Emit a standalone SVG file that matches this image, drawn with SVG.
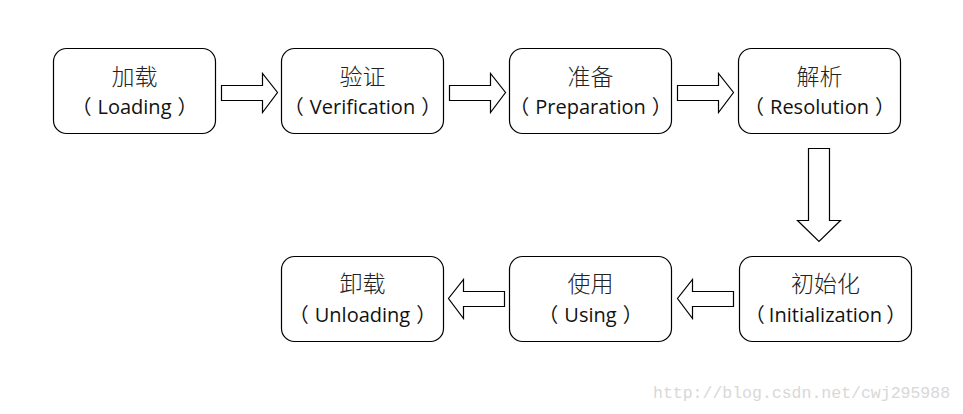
<svg xmlns="http://www.w3.org/2000/svg" width="963" height="414" viewBox="0 0 963 414">
<style>
.box{fill:#fff;stroke:#000;stroke-width:1.2}
.arr{fill:#fff;stroke:#000;stroke-width:1.2;stroke-linejoin:miter}
.zh{font-family:"Noto Sans CJK SC","Noto Sans",sans-serif;font-size:23px;font-weight:300;fill:#222;text-anchor:middle}
.en{font-family:"Open Sans","Noto Sans CJK SC",sans-serif;font-size:20px;fill:#111;text-anchor:middle}
.wm{font-family:"Liberation Mono",monospace;font-size:16.5px;fill:#d8d8d8}
</style>
<rect width="963" height="414" fill="#fff"/>
<g id="n-loading"><rect class="box" x="53.5" y="48.5" width="162" height="85" rx="13"/><text class="zh" x="134.5" y="85">加载</text><text class="en" x="134.5" y="114">（<tspan dx="6">Loading</tspan><tspan dx="6">）</tspan></text></g>
<g id="n-verification"><rect class="box" x="281.5" y="48.5" width="162" height="85" rx="13"/><text class="zh" x="362.5" y="85">验证</text><text class="en" x="362.5" y="114">（<tspan dx="6">Verification</tspan><tspan dx="6">）</tspan></text></g>
<g id="n-preparation"><rect class="box" x="509.5" y="48.5" width="162" height="85" rx="13"/><text class="zh" x="590.5" y="85">准备</text><text class="en" x="590.5" y="114">（<tspan dx="6">Preparation</tspan><tspan dx="6">）</tspan></text></g>
<g id="n-resolution"><rect class="box" x="738.5" y="48.5" width="162" height="85" rx="13"/><text class="zh" x="819.5" y="85">解析</text><text class="en" x="819.5" y="114">（<tspan dx="6">Resolution</tspan><tspan dx="6">）</tspan></text></g>
<g id="n-initialization"><rect class="box" x="739.5" y="256.5" width="172" height="85" rx="13"/><text class="zh" x="825.5" y="292">初始化</text><text class="en" x="825.5" y="322">（<tspan dx="4">Initialization</tspan><tspan dx="4">）</tspan></text></g>
<g id="n-using"><rect class="box" x="509.5" y="256.5" width="162" height="85" rx="13"/><text class="zh" x="590.5" y="292">使用</text><text class="en" x="590.5" y="322">（<tspan dx="6">Using</tspan><tspan dx="6">）</tspan></text></g>
<g id="n-unloading"><rect class="box" x="281.5" y="256.5" width="162" height="85" rx="13"/><text class="zh" x="362.5" y="292">卸载</text><text class="en" x="362.5" y="322">（<tspan dx="6">Unloading</tspan><tspan dx="6">）</tspan></text></g>
<g id="connectors">
<polygon class="arr" points="221.5,85.5 262.5,85.5 262.5,73.5 277.5,92.5 262.5,112.5 262.5,100.5 221.5,100.5"/>
<polygon class="arr" points="449.5,85.5 490.5,85.5 490.5,73.5 505.5,92.5 490.5,112.5 490.5,100.5 449.5,100.5"/>
<polygon class="arr" points="677.5,85.5 718.5,85.5 718.5,73.5 733.5,92.5 718.5,112.5 718.5,100.5 677.5,100.5"/>
<polygon class="arr" points="808.5,148.5 829.5,148.5 829.5,220.5 840.5,220.5 819,241.5 797.5,220.5 808.5,220.5"/>
<polygon class="arr" points="733.5,291.5 692.5,291.5 692.5,279.5 677.5,298.5 692.5,318.5 692.5,306.5 733.5,306.5"/>
<polygon class="arr" points="504.5,291.5 463.5,291.5 463.5,279.5 448.5,298.5 463.5,318.5 463.5,306.5 504.5,306.5"/>
</g>
<text class="wm" x="653" y="398">http://blog.csdn.net/cwj295988</text>
</svg>
